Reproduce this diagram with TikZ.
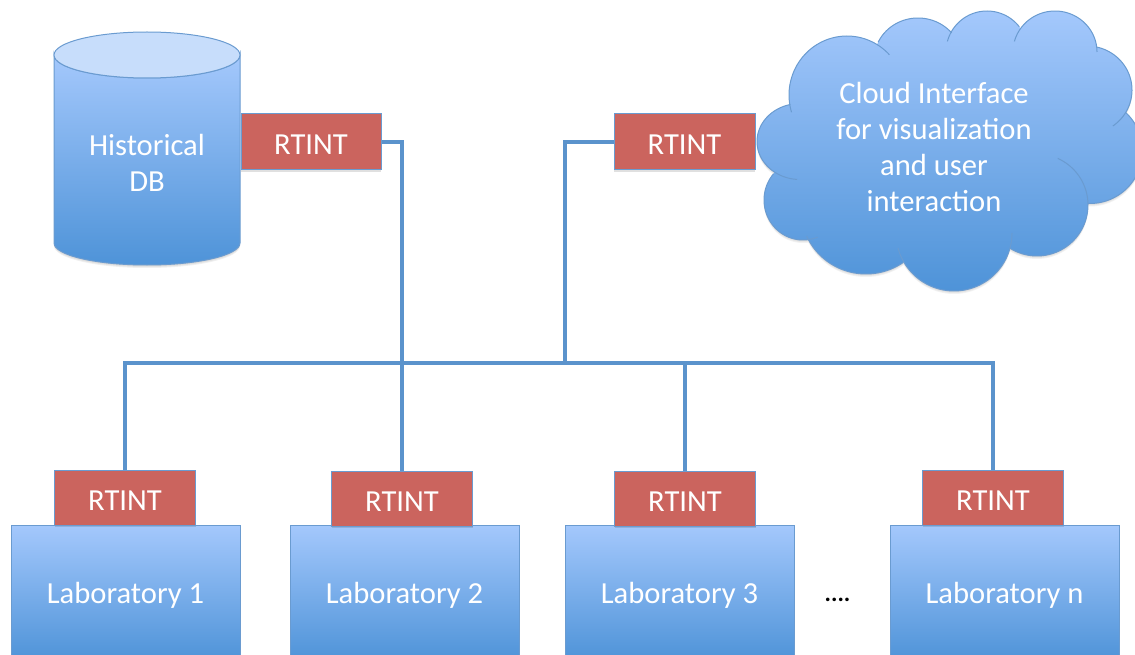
\documentclass[tikz,border=0pt]{standalone}
\usepackage{fontspec}
\setmainfont{Carlito}
\usetikzlibrary{backgrounds,shadows}
\definecolor{linkblue}{HTML}{5B93CC}
\definecolor{edgeblue}{HTML}{6A9BD0}
\definecolor{topblue}{HTML}{A4C8FC}
\definecolor{botblue}{HTML}{4E93D8}
\definecolor{capblue}{HTML}{C7DDFB}
\definecolor{brick}{HTML}{CB645E}
\tikzset{
  softshadow/.style={general shadow={shadow xshift=0pt,shadow yshift=-2pt,fill=black,opacity=.12}},
  rtint/.style={draw=edgeblue,line width=1pt,fill=brick,text=white,minimum width=141pt,minimum height=55pt,inner sep=0pt,text height=30pt,text depth=5pt,font=\fontsize{30.6}{30.6}\selectfont,softshadow},
  lab/.style={draw=edgeblue,line width=1pt,top color=topblue,bottom color=botblue,text=white,minimum width=229pt,minimum height=136pt,inner sep=0pt,text height=24pt,text depth=4pt,font=\fontsize{30.6}{30.6}\selectfont,softshadow},
  label/.style={text=white,inner sep=0pt,align=center,font=\fontsize{30.6}{36}\selectfont},
  link/.style={draw=linkblue,line width=3.4pt,line join=miter,line cap=rect},
  cloudline/.style={draw=edgeblue,line width=1pt}
}
% one lobe of the cloud outline: centre x, centre y, x radius, y radius, start and end angle (y down)
\newcommand{\lobe}[6]{\draw[cloudline] plot[domain=#5:#6,samples=50,smooth] ({#1+#3*cos(\x)},{#2+#4*sin(\x)});}
\newcommand{\lobesum}{
  (847,95) ellipse[x radius=58,y radius=59]
  (918,60) ellipse[x radius=44,y radius=42]
  (987,52) ellipse[x radius=41,y radius=41]
  (1055,52) ellipse[x radius=42,y radius=41]
  (1087,90) ellipse[x radius=45,y radius=44]
  (1090,151) ellipse[x radius=52.5,y radius=52.5]
  (1037,205) ellipse[x radius=51,y radius=51]
  (954,233) ellipse[x radius=58,y radius=58]
  (866,210) ellipse[x radius=65,y radius=64]
  (803,200) ellipse[x radius=39,y radius=40]
  (800,141.5) ellipse[x radius=43,y radius=38]
  (945,150) ellipse[x radius=140,y radius=100]
}
\begin{document}
\begin{tikzpicture}[x=1pt,y=-1pt]
\useasboundingbox (0,0) rectangle (1135,655);
\clip (0,0) rectangle (1135,655);
% Historical DB cylinder
\foreach \d in {1,2,3}
  \path[fill=black,opacity=.06] (54,240) -- (54,243+\d) arc[start angle=180,end angle=360,x radius=93,y radius=-22] -- (240,240) -- cycle;
\path[draw=edgeblue,line width=1pt,top color=topblue,bottom color=botblue]
  (54,55) -- (54,243) arc[start angle=180,end angle=360,x radius=93,y radius=-22] -- (240,55) arc[start angle=0,end angle=180,x radius=93,y radius=23] -- cycle;
\path[draw=edgeblue,line width=1pt,fill=capblue] (147,55) ellipse[x radius=93,y radius=23];
\node[label] (dbtext) at (147,163) {Historical\\DB};
% Cloud
\foreach \d in {1,2,3}
  \path[fill=black,opacity=.05,shift={(0,\d)}] \lobesum;
\path[top color=topblue,bottom color=botblue] \lobesum;
\lobe{847}{95}{58}{59}{163}{317}
\lobe{918}{60}{44}{42}{205}{320}
\lobe{987}{52}{41}{41}{195}{322}
\lobe{1055}{52}{42}{41}{195}{360}
\lobe{1087}{90}{45}{44}{283}{415}
\lobe{1090}{151}{52.5}{52.5}{313}{452}
\lobe{1037}{205}{51}{51}{294}{482}
\lobe{954}{233}{58}{58}{0}{165}
\lobe{866}{210}{65}{64}{55}{156}
\lobe{803}{200}{39}{40}{68}{221}
\lobe{800}{141.5}{43}{38}{94}{257}
\node[label] (cloudtext) at (934,146.5) {Cloud Interface\\for visualization\\and user\\interaction};
% RTINT boxes and laboratories
\node[rtint,minimum width=140pt,minimum height=56pt] (rdb) at (311,142) {RTINT};
\node[rtint,minimum height=56pt] (rcloud) at (684.5,142) {RTINT};
\node[lab] (lab1) at (125.5,593) {Laboratory 1};
\node[lab] (lab2) at (404.5,593) {Laboratory 2};
\node[lab] (lab3) at (679.5,593) {Laboratory 3};
\node[lab] (labn) at (1004.5,593) {Laboratory n};
\node[rtint] (r1) at (125,497.5) {RTINT};
\node[rtint] (r2) at (402,498.5) {RTINT};
\node[rtint] (r3) at (685,498.5) {RTINT};
\node[rtint] (rn) at (993,497.5) {RTINT};
\node[inner sep=0pt,font=\bfseries\fontsize{24}{24}\selectfont] (dots) at (837.5,600) {....};
% Connectors
\coordinate (busl) at (r1.north |- 0,363);
\coordinate (busr) at (rn.north |- 0,363);
\begin{scope}[on background layer]
  \draw[link] (busl) -- (busr);
  \draw[link] (r1.north) -- (busl);
  \draw[link] (rn.north) -- (busr);
  \draw[link] (r3.north) -- (r3.north |- busl);
  \draw[link] (rdb.east) -| (r2.north);
  \draw[link] (rcloud.west) -| (565,363);
\end{scope}
\end{tikzpicture}
\end{document}
